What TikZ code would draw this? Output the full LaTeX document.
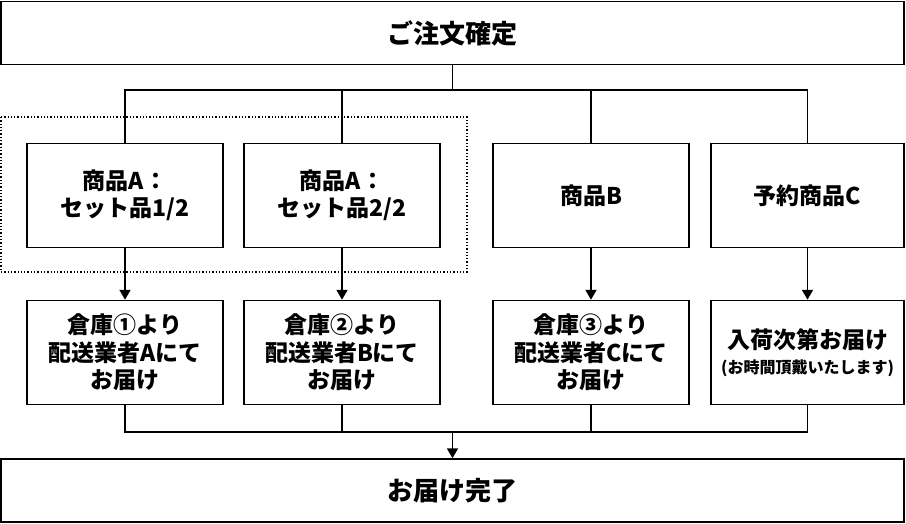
\documentclass[tikz,border=0pt]{standalone}
\usepackage{fontspec}
\setmainfont{Noto Sans CJK JP}
\usetikzlibrary{arrows.meta}

\begin{document}
\begin{tikzpicture}[x=1pt,y=-1pt,
    wide/.style={draw,line width=1.5pt,minimum width=903pt,minimum height=63pt,
                 font=\fontsize{26}{30}\selectfont\bfseries},
    item/.style={draw,line width=1.5pt,minimum width=196pt,minimum height=104pt,
                 align=center,font=\fontsize{23}{27.5}\selectfont\bfseries},
    link/.style={line width=1.9pt},
    arr/.style={link,-{Triangle[length=10pt,width=11pt]}}]
    \useasboundingbox (0,0) rectangle (906,524);

    \node[wide] (order) at (452.5,33) {ご注文確定};

    \draw[dotted,line width=1.3pt] (1,117) rectangle (467,272);

    \node[item] (a1) at (125,195.5) {商品A：\\セット品1/2};
    \node[item] (a2) at (342,195.5) {商品A：\\セット品2/2};
    \node[item] (b)  at (591,195.5) {商品B};
    \node[item,minimum width=193pt] (c) at (807.5,195.5) {予約商品C};

    \node[item] (s1) at (125,352.5) {倉庫①より\\配送業者Aにて\\お届け};
    \node[item] (s2) at (342,352.5) {倉庫②より\\配送業者Bにて\\お届け};
    \node[item] (s3) at (591,352.5) {倉庫③より\\配送業者Cにて\\お届け};
    \node[item,minimum width=193pt] (s4) at (807.5,352.5) {入荷次第お届け\\[-3pt]{\fontsize{16}{20}\selectfont (お時間頂戴いたします)}};

    \node[wide] (done) at (452.5,490.5) {お届け完了};

    \coordinate (split) at (452.5,90);
    \coordinate (join) at (452.5,432);

    % branching
    \draw[link] (order) -- (split);
    \draw[link] (a1.north) |- (split) -| (c.north);
    \draw[link] (a2.north) -- (a2.north |- split);
    \draw[link] (b.north) -- (b.north |- split);

    \draw[arr] (a1) -- (s1);
    \draw[arr] (a2) -- (s2);
    \draw[arr] (b) -- (s3);
    \draw[arr] (c) -- (s4);

    % merging
    \draw[link] (s1.south) |- (join) -| (s4.south);
    \draw[link] (s2.south) -- (s2.south |- join);
    \draw[link] (s3.south) -- (s3.south |- join);
    \draw[arr] (join) -- (done);
\end{tikzpicture}
\end{document}
